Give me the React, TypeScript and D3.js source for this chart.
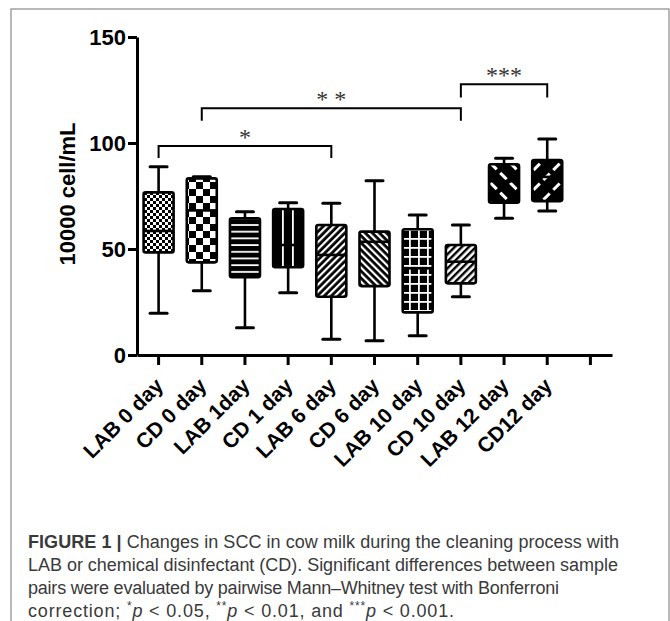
import React, { useEffect, useRef } from 'react';
import * as d3 from 'd3';

// groups on the x axis (last slot is left empty like in the original)
const categories = [
  'LAB 0 day',
  'CD 0 day',
  'LAB 1day',
  'CD 1 day',
  'LAB 6 day',
  'CD 6 day',
  'LAB 10 day',
  'CD 10 day',
  'LAB 12 day',
  'CD12 day',
];
const mins = [19.7, 30.3, 12.9, 29.4, 7.4, 6.7, 9.1, 27.5, 64.5, 67.9];
const q1s = [48.4, 43.7, 36.7, 41.4, 27.5, 32.5, 20.1, 33.8, 71.8, 72.6];
const medians = [58.5, 68.2, 50.0, 51.9, 47.2, 53.4, 40.9, 44.0, 82.0, 84.0];
const q3s = [76.7, 83.3, 64.5, 68.9, 61.3, 58.2, 59.3, 51.9, 90.0, 92.0];
const maxs = [88.8, 84.1, 67.6, 71.8, 71.6, 82.2, 66.0, 61.3, 92.8, 101.9];

const yTicks = [0, 50, 100, 150];

// significance brackets: index of groups, bracket height, leg end (y units)
const sigFrom = [0, 1, 7];
const sigTo = [4, 7, 9];
const sigLevel = [98.6, 116.4, 127.7];
const sigLeg = [92.9, 110.5, 121.5];
const sigLabel = ['*', '* *', '***'];

const patternIds = ['pFine', 'pCheck', 'pHLine', 'pVLine', 'pSlash', 'pBack', 'pGrid', 'pZig', 'pWideBack', 'pWideSlash'];

const App = () => {
  const ref = useRef<SVGGElement>(null);

  const drawChart = () => {
    const svg = d3.select(ref.current);
    svg.selectAll('*').remove();

    const defs = svg.append('defs');
    const pat = (id, w, h, rot) => {
      const p = defs
        .append('pattern')
        .attr('id', id)
        .attr('patternUnits', 'userSpaceOnUse')
        .attr('width', w)
        .attr('height', h);
      if (rot) p.attr('patternTransform', 'rotate(' + rot + ')');
      return p;
    };
    let p = pat('pFine', 6, 6, 0);
    p.append('rect').attr('width', 6).attr('height', 6).attr('fill', '#fff');
    p.append('rect').attr('width', 3).attr('height', 3).attr('fill', '#000');
    p.append('rect').attr('x', 3).attr('y', 3).attr('width', 3).attr('height', 3).attr('fill', '#000');

    p = pat('pCheck', 14, 14, 0);
    p.append('rect').attr('width', 14).attr('height', 14).attr('fill', '#fff');
    p.append('rect').attr('width', 7).attr('height', 7).attr('fill', '#000');
    p.append('rect').attr('x', 7).attr('y', 7).attr('width', 7).attr('height', 7).attr('fill', '#000');

    p = pat('pHLine', 10, 6.7, 0);
    p.append('rect').attr('width', 10).attr('height', 6.7).attr('fill', '#000');
    p.append('rect').attr('y', 3).attr('width', 10).attr('height', 1.8).attr('fill', '#fff');

    p = pat('pVLine', 10, 10, 0);
    p.append('rect').attr('width', 10).attr('height', 10).attr('fill', '#000');
    p.append('rect').attr('x', 2).attr('width', 1.8).attr('height', 10).attr('fill', '#fff');

    p = pat('pSlash', 5, 5, 45);
    p.append('rect').attr('width', 5).attr('height', 5).attr('fill', '#000');
    p.append('rect').attr('width', 2.2).attr('height', 5).attr('fill', '#fff');

    p = pat('pBack', 5, 5, -45);
    p.append('rect').attr('width', 5).attr('height', 5).attr('fill', '#000');
    p.append('rect').attr('width', 2.2).attr('height', 5).attr('fill', '#fff');

    p = pat('pGrid', 9, 9, 0);
    p.append('rect').attr('width', 9).attr('height', 9).attr('fill', '#000');
    p.append('rect').attr('y', 4).attr('width', 9).attr('height', 1.8).attr('fill', '#fff');
    p.append('rect').attr('x', 4).attr('width', 1.8).attr('height', 9).attr('fill', '#fff');

    p = pat('pZig', 5, 5, 45);
    p.append('rect').attr('width', 5).attr('height', 5).attr('fill', '#fff');
    p.append('rect').attr('width', 2.4).attr('height', 5).attr('fill', '#000');

    p = pat('pWideBack', 14, 14, -45);
    p.append('rect').attr('width', 14).attr('height', 14).attr('fill', '#000');
    p.append('rect').attr('x', 6).attr('width', 3).attr('height', 9).attr('fill', '#fff');

    p = pat('pWideSlash', 14, 14, 45);
    p.append('rect').attr('width', 14).attr('height', 14).attr('fill', '#000');
    p.append('rect').attr('x', 6).attr('width', 3).attr('height', 9).attr('fill', '#fff');

    // figure frame
    svg
      .append('rect')
      .attr('x', 11)
      .attr('y', 9)
      .attr('width', 658)
      .attr('height', 640)
      .attr('fill', 'none')
      .attr('stroke', '#8a8a8a')
      .attr('stroke-width', 1.2);

    const x = d3
      .scaleBand()
      .domain([...categories, ''])
      .range([137, 612]);
    const y = d3.scaleLinear().domain([0, 150]).range([355, 37]);
    const cx = (i) => x(categories[i]) + x.bandwidth() / 2;

    const g = svg.append('g');

    // y axis
    const ya = g
      .append('g')
      .attr('transform', 'translate(137,0)')
      .call(d3.axisLeft(y).tickValues(yTicks).tickSize(9).tickSizeOuter(0).tickPadding(2));
    ya.selectAll('path, line').attr('stroke', '#000').attr('stroke-width', 3);
    ya.selectAll('text')
      .attr('fill', '#000')
      .style('font-family', 'Liberation Sans, Arial, sans-serif')
      .style('font-weight', 'bold')
      .style('font-size', '22px');

    // x axis
    const xa = g
      .append('g')
      .attr('transform', 'translate(0,355)')
      .call(d3.axisBottom(x).tickSize(10).tickSizeOuter(0));
    xa.selectAll('path, line').attr('stroke', '#000').attr('stroke-width', 3);
    xa.selectAll('text')
      .attr('x', 0)
      .attr('y', 0)
      .attr('dy', null)
      .attr('fill', '#000')
      .attr('text-anchor', 'end')
      .attr('transform', 'translate(6,32) rotate(-45)')
      .style('font-family', 'Liberation Sans, Arial, sans-serif')
      .style('font-weight', 'bold')
      .style('font-size', '21px');

    g.append('text')
      .attr('transform', 'translate(75,194) rotate(-90)')
      .attr('text-anchor', 'middle')
      .style('font-family', 'Liberation Sans, Arial, sans-serif')
      .style('font-weight', 'bold')
      .style('font-size', '22px')
      .text('10000 cell/mL');

    // box plots
    const boxW = 30;
    const capW = 17;
    categories.forEach((c, i) => {
      const bx = cx(i);
      const b = g.append('g');
      b.append('line')
        .attr('x1', bx)
        .attr('x2', bx)
        .attr('y1', y(maxs[i]))
        .attr('y2', y(mins[i]))
        .attr('stroke', '#000')
        .attr('stroke-width', 2.6);
      [mins[i], maxs[i]].forEach((v) => {
        b.append('line')
          .attr('x1', bx - capW / 2)
          .attr('x2', bx + capW / 2)
          .attr('y1', y(v))
          .attr('y2', y(v))
          .attr('stroke', '#000')
          .attr('stroke-width', 3)
          .attr('stroke-linecap', 'round');
      });
      b.append('rect')
        .attr('x', bx - boxW / 2)
        .attr('y', y(q3s[i]))
        .attr('width', boxW)
        .attr('height', y(q1s[i]) - y(q3s[i]))
        .attr('rx', 2)
        .attr('fill', 'url(#' + patternIds[i] + ')')
        .attr('stroke', '#000')
        .attr('stroke-width', 2.6);
      b.append('line')
        .attr('x1', bx - boxW / 2)
        .attr('x2', bx + boxW / 2)
        .attr('y1', y(medians[i]))
        .attr('y2', y(medians[i]))
        .attr('stroke', '#000')
        .attr('stroke-width', 2.6);
    });

    // significance brackets
    sigLabel.forEach((lab, i) => {
      const x1 = cx(sigFrom[i]);
      const x2 = cx(sigTo[i]);
      const path = d3.path();
      path.moveTo(x1, y(sigLeg[i]));
      path.lineTo(x1, y(sigLevel[i]));
      path.lineTo(x2, y(sigLevel[i]));
      path.lineTo(x2, y(sigLeg[i]));
      g.append('path')
        .attr('d', path.toString())
        .attr('fill', 'none')
        .attr('stroke', '#000')
        .attr('stroke-width', 2);
      g.append('text')
        .attr('x', (x1 + x2) / 2)
        .attr('y', y(sigLevel[i]) - 1)
        .attr('text-anchor', 'middle')
        .attr('fill', '#333')
        .style('font-family', 'Liberation Serif, Times New Roman, serif')
        .style('font-size', '24px')
        .text(lab);
    });
  };

  useEffect(() => {
    drawChart();
  }, []);

  const cap = {
    fontFamily: 'Liberation Sans, Arial, sans-serif',
    fontSize: '18px',
    fill: '#3a3a3a',
  };

  return (
    <div style={{ position: 'absolute', left: 0, top: 0 }}>
      <svg width={670} height={621} style={{ display: 'block' }}>
        <g ref={ref} />
        <g style={cap}>
          <text x={28} y={548} textLength={591} lengthAdjust="spacing">
            <tspan fontWeight="bold">FIGURE 1 |</tspan> Changes in SCC in cow milk during the cleaning process with
          </text>
          <text x={28} y={571} textLength={590} lengthAdjust="spacing">
            LAB or chemical disinfectant (CD). Significant differences between sample
          </text>
          <text x={28} y={594} textLength={531} lengthAdjust="spacing">
            pairs were evaluated by pairwise Mann–Whitney test with Bonferroni
          </text>
          <text x={28} y={617} textLength={426} lengthAdjust="spacing">
            correction; <tspan fontSize="12px" dy={-7}>*</tspan>
            <tspan fontStyle="italic" dy={7}>p</tspan> {'<'} 0.05, <tspan fontSize="12px" dy={-7}>**</tspan>
            <tspan fontStyle="italic" dy={7}>p</tspan> {'<'} 0.01, and <tspan fontSize="12px" dy={-7}>***</tspan>
            <tspan fontStyle="italic" dy={7}>p</tspan> {'<'} 0.001.
          </text>
        </g>
      </svg>
    </div>
  );
};

export default App;
